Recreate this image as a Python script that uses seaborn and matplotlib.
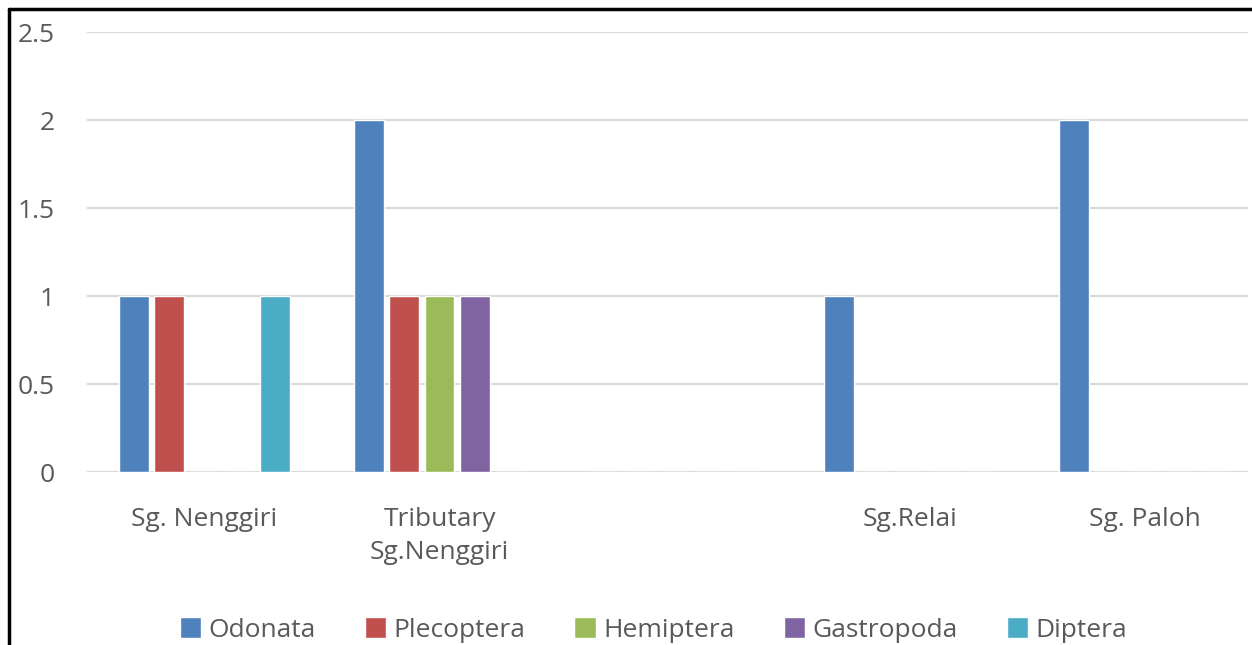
import matplotlib
matplotlib.use("Agg")
import matplotlib.pyplot as plt
import matplotlib.lines as mlines
import seaborn as sns
import pandas as pd

sites = ["Sg. Nenggiri", "Tributary\nSg.Nenggiri", "", "Sg.Relai", "Sg. Paloh"]
taxa = ["Odonata", "Plecoptera", "Hemiptera", "Gastropoda", "Diptera"]
odonata = [1, 2, 0, 1, 2]
plecoptera = [1, 1, 0, 0, 0]
hemiptera = [0, 1, 0, 0, 0]
gastropoda = [0, 1, 0, 0, 0]
diptera = [1, 0, 0, 0, 0]
colors = ["#4F81BD", "#C0504D", "#9BBB59", "#8064A2", "#4BACC6"]
yticks = [0, 0.5, 1, 1.5, 2, 2.5]
ytick_labels = ["0", "0.5", "1", "1.5", "2", "2.5"]

rows = []
for name, vals in zip(taxa, [odonata, plecoptera, hemiptera, gastropoda, diptera]):
    for s, v in zip(sites, vals):
        rows.append({"site": s, "taxon": name, "count": v})
df = pd.DataFrame(rows)

sns.set_theme(style="white")
plt.rcParams["font.family"] = ["Open Sans", "DejaVu Sans"]
txt = "#595959"
fs = 19

fig = plt.figure(figsize=(12.52, 6.45), dpi=100)
W, H = 1252, 645
ax = fig.add_axes([87 / W, 1 - 472 / H, (1248 - 87) / W, (472 - 32) / H])

sns.barplot(data=df, x="site", y="count", hue="taxon", order=sites, hue_order=taxa,
            palette=colors, width=0.75, gap=0.15, ax=ax, saturation=1, legend=True,
            errorbar=None)

ax.set_ylim(0, 2.5)
ax.set_xlim(-0.5, (1248 - 204.5) / 235)
ax.set_yticks(yticks)
ax.set_yticklabels(ytick_labels)
ax.yaxis.grid(True, color="#D9D9D9", linewidth=1.5)
ax.set_axisbelow(True)
for sp in ax.spines.values():
    sp.set_visible(False)
ax.set_xlabel("")
ax.set_ylabel("")
ax.tick_params(axis="y", length=0, pad=23, labelsize=fs, labelcolor=txt)
ax.tick_params(axis="x", length=0, pad=25, labelsize=fs, labelcolor=txt)
for lab in ax.get_xticklabels():
    lab.set_linespacing(1.45)

handles, labels = ax.get_legend_handles_labels()
ax.get_legend().remove()
fig.legend(handles, labels, loc="center", bbox_to_anchor=(0.522, 1 - 630 / H), ncol=5,
           frameon=False, fontsize=fs, handlelength=0.8, handleheight=0.8,
           handletextpad=0.3, columnspacing=1.85, labelcolor=txt)

fig.add_artist(mlines.Line2D([9 / W, 9 / W], [0, 1 - 9 / H], color="black", linewidth=2.5,
                             transform=fig.transFigure))
fig.add_artist(mlines.Line2D([9 / W, 1], [1 - 9 / H, 1 - 9 / H], color="black", linewidth=2.5,
                             transform=fig.transFigure))

fig.savefig("out.png", dpi=100, facecolor="white")
